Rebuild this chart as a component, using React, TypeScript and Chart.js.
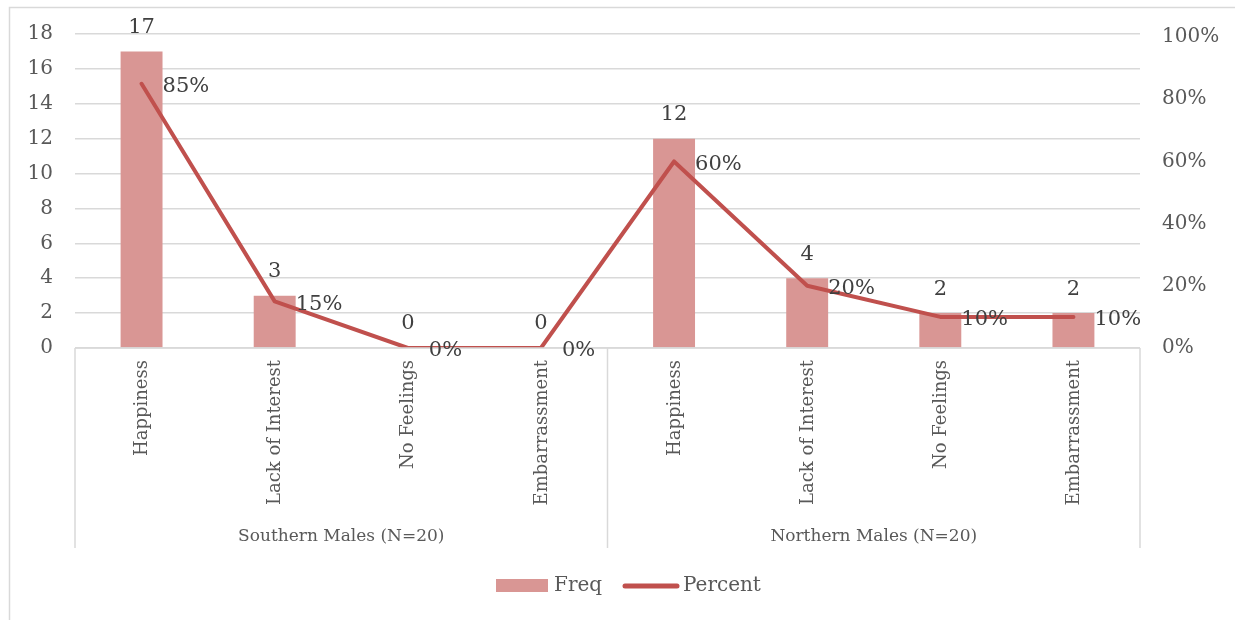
import React, { useEffect, useRef } from "react";
import { Chart, registerables } from "chart.js";

Chart.register(...registerables);

const categories = [
  "Happiness", "Lack of Interest", "No Feelings", "Embarrassment",
  "Happiness", "Lack of Interest", "No Feelings", "Embarrassment",
];
const groups = ["Southern Males (N=20)", "Northern Males (N=20)"];
const freqValues = [17, 3, 0, 0, 12, 4, 2, 2];
const percentValues = [85, 15, 0, 0, 60, 20, 10, 10];
const freqTicks = [0, 2, 4, 6, 8, 10, 12, 14, 16, 18];
const percentTicks = [0, 20, 40, 60, 80, 100];

const FONT = '"DejaVu Serif", serif';
const TEXT = "#595959";
const GRID = "#D9D9D9";
const BAR = "#D99694";
const LINE = "#C0504D";

const W = 1235;
const H = 620;
const LEFT = 75;
const RIGHT = 1140;
const TOP = 34;
const BOTTOM = 348;

const decorPlugin = {
  id: "decor",
  beforeDraw(chart: any) {
    const ctx = chart.ctx;
    ctx.save();
    ctx.fillStyle = "#ffffff";
    ctx.fillRect(0, 0, chart.width, chart.height);
    ctx.strokeStyle = GRID;
    ctx.lineWidth = 1.5;
    ctx.beginPath();
    ctx.moveTo(9.5, H);
    ctx.lineTo(9.5, 7.5);
    ctx.lineTo(W, 7.5);
    ctx.stroke();
    ctx.restore();
  },
  afterDraw(chart: any) {
    const ctx = chart.ctx;
    const x = chart.scales.x;
    const y = chart.scales.y;
    const y1 = chart.scales.y1;
    const area = chart.chartArea;
    ctx.save();
    const n = categories.length;
    const step = (area.right - area.left) / n;
    ctx.strokeStyle = GRID;
    ctx.lineWidth = 1.5;
    const sepXs = [area.left, area.left + step * 4, area.right];
    sepXs.forEach((sx) => {
      ctx.beginPath();
      ctx.moveTo(sx, area.bottom);
      ctx.lineTo(sx, 548);
      ctx.stroke();
    });
    ctx.beginPath();
    ctx.moveTo(area.left, area.bottom);
    ctx.lineTo(area.right, area.bottom);
    ctx.stroke();
    // rotated category labels
    ctx.fillStyle = TEXT;
    ctx.font = `18px ${FONT}`;
    categories.forEach((c, i) => {
      const cx = x.getPixelForValue(i);
      ctx.save();
      ctx.translate(cx + 1, area.bottom + 12);
      ctx.rotate(-Math.PI / 2);
      ctx.textAlign = "right";
      ctx.textBaseline = "middle";
      ctx.fillText(c, 0, 0);
      ctx.restore();
    });
    // group labels
    ctx.font = `17px ${FONT}`;
    ctx.textAlign = "center";
    ctx.textBaseline = "middle";
    groups.forEach((g, gi) => {
      const gx = (sepXs[gi] + sepXs[gi + 1]) / 2;
      ctx.fillText(g, gx, 537);
    });
    // data labels
    ctx.fillStyle = "#404040";
    ctx.font = `21px ${FONT}`;
    freqValues.forEach((v, i) => {
      const bx = x.getPixelForValue(i);
      const by = y.getPixelForValue(v);
      ctx.textAlign = "center";
      ctx.textBaseline = "middle";
      ctx.fillText(String(v), bx, by - 24);
    });
    percentValues.forEach((v, i) => {
      const px = x.getPixelForValue(i);
      const py = y1.getPixelForValue(v);
      ctx.textAlign = "left";
      ctx.textBaseline = "middle";
      ctx.fillText(v + "%", px + 21, py + 3);
    });
    // legend
    ctx.fillStyle = BAR;
    ctx.fillRect(496, 579, 52, 13);
    ctx.strokeStyle = LINE;
    ctx.lineWidth = 5;
    ctx.lineCap = "round";
    ctx.beginPath();
    ctx.moveTo(625, 586);
    ctx.lineTo(677, 586);
    ctx.stroke();
    ctx.fillStyle = TEXT;
    ctx.font = `20px ${FONT}`;
    ctx.textAlign = "left";
    ctx.textBaseline = "middle";
    ctx.fillText("Freq", 554, 586);
    ctx.fillText("Percent", 683, 586);
    ctx.restore();
  },
};

export default function App() {
  const ref = useRef<HTMLCanvasElement>(null);
  useEffect(() => {
    document.body.style.margin = "0";
    document.body.style.overflow = "hidden";
    const canvas = ref.current!;
    const chart = new Chart(canvas, {
      type: "bar",
      data: {
        labels: categories.map((c, i) => `${c}-${i}`),
        datasets: [
          {
            type: "line",
            label: "Percent",
            data: percentValues,
            yAxisID: "y1",
            borderColor: LINE,
            backgroundColor: LINE,
            borderWidth: 4,
            borderCapStyle: "round",
            borderJoinStyle: "round",
            pointRadius: 0,
            tension: 0,
            order: 0,
          } as any,
          {
            type: "bar",
            label: "Freq",
            data: freqValues,
            yAxisID: "y",
            backgroundColor: BAR,
            categoryPercentage: 1,
            barPercentage: 0.315,
            order: 1,
          },
        ],
      },
      options: {
        responsive: false,
        animation: false,
        layout: { padding: { left: 0, right: 0, top: TOP, bottom: H - BOTTOM } },
        plugins: { legend: { display: false }, tooltip: { enabled: false } },
        scales: {
          x: {
            display: false,
          },
          y: {
            position: "left",
            min: 0,
            max: 18,
            afterBuildTicks: (s: any) => {
              s.ticks = freqTicks.map((v) => ({ value: v }));
            },
            afterFit: (s: any) => {
              s.width = LEFT;
            },
            grid: { color: GRID, lineWidth: 1.5, drawTicks: false },
            border: { display: false },
            ticks: {
              color: TEXT,
              font: { family: FONT, size: 20 },
              padding: 22,
            },
          },
          y1: {
            position: "right",
            min: 0,
            max: 101,
            afterBuildTicks: (s: any) => {
              s.ticks = percentTicks.map((v) => ({ value: v }));
            },
            afterFit: (s: any) => {
              s.width = W - RIGHT;
            },
            grid: { display: false, drawTicks: false },
            border: { display: false },
            ticks: {
              color: TEXT,
              font: { family: FONT, size: 20 },
              padding: 22,
              callback: (v: any) => v + "%",
            },
          },
        },
      },
      plugins: [decorPlugin],
    });
    return () => chart.destroy();
  }, []);
  return (
    <div style={{ width: W, height: H }}>
      <canvas ref={ref} width={W} height={H} style={{ display: "block" }} />
    </div>
  );
}
